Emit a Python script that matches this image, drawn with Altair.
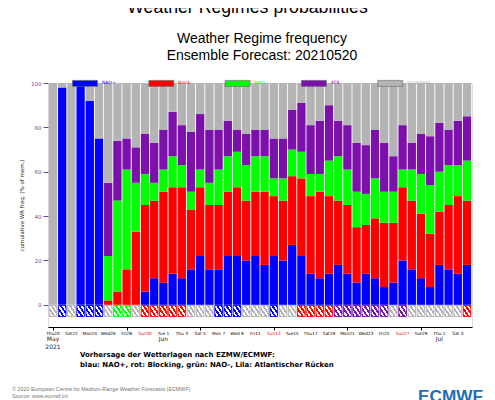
import altair as alt
import pandas as pd

# ---------------- data ----------------
dates = pd.date_range("2021-05-20", "2021-07-04", freq="D")  # Thu20 May .. Sun 4 Jul

nao_plus = [0, 98, 0, 100, 92, 75, 0, 0, 0, 0, 6, 12, 10, 14, 12, 16, 22, 16, 16, 22, 22, 20, 22,
            18, 22, 20, 27, 22, 14, 12, 14, 18, 14, 10, 14, 12, 8, 10, 20, 16, 12, 8, 18, 16, 14, 18]
blocking = [0, 0, 0, 0, 0, 0, 2, 6, 16, 33, 39, 35, 41, 39, 41, 27, 31, 29, 29, 29, 31, 27, 29,
            33, 27, 27, 31, 35, 35, 39, 35, 29, 31, 25, 22, 27, 29, 27, 33, 31, 29, 24, 24, 29, 35, 29]
nao_minus = [0, 0, 0, 0, 0, 0, 20, 41, 45, 22, 14, 8, 10, 14, 10, 8, 8, 10, 16, 16, 16, 16, 16,
             16, 8, 10, 12, 12, 10, 8, 16, 20, 16, 16, 14, 18, 14, 14, 8, 14, 18, 22, 18, 18, 14, 18]
atl_ridge = [0, 0, 0, 0, 0, 0, 33, 27, 14, 16, 18, 18, 18, 20, 18, 27, 25, 24, 18, 16, 10, 14, 12,
             12, 18, 18, 18, 22, 22, 24, 25, 16, 20, 22, 22, 22, 22, 16, 20, 12, 18, 22, 22, 16, 20, 20]
dominant = ["no regime", "NAO+", "no regime", "NAO+", "NAO+", "NAO+", "no regime", "NAO-", "NAO-",
            "no regime", "Block", "Block", "Block", "Block", "Block", "no regime", "no regime",
            "no regime", "NAO+", "NAO+", "NAO+", "no regime", "no regime", "no regime", "NAO+",
            "no regime", "no regime", "Block", "Block", "Block", "Block", "ATR", "ATR", "ATR", "ATR",
            "ATR", "ATR", "no regime", "ATR", "no regime", "no regime", "no regime", "no regime",
            "no regime", "no regime", "Block"]

regimes = ["NAO+", "Block", "NAO-", "ATR", "no regime"]
colors = ["#0000ff", "#ff0000", "#00ff00", "#7b10ab", "#b4b4b4"]

month_dates = ["2021-05-20", "2021-06-01", "2021-07-01"]
month_names = ["May", "Jun", "Jul"]

main_title = "Weather Regimes probabilities"
sub_title = ["Weather Regime frequency", "Ensemble Forecast: 20210520"]
footnote = ["Vorhersage der Wetterlagen nach EZMW/ECMWF:",
            "blau: NAO+, rot: Blocking, grün: NAO-, Lila: Atlantischer Rücken"]
copyright_lines = ["© 2020 European Centre for Medium-Range Weather Forecasts (ECMWF)",
                   "Source: www.ecmwf.int"]

# ---------------- tables ----------------
date_str = [d.strftime("%Y-%m-%dT00:00:00") for d in dates]
rows = []
for i, ds in enumerate(date_str):
    shares = [nao_plus[i], blocking[i], nao_minus[i], atl_ridge[i]]
    shares.append(100 - sum(shares))
    for k, (reg, v) in enumerate(zip(regimes, shares)):
        rows.append({"date": ds, "regime": reg, "k": k, "value": v})
df = pd.DataFrame(rows)
df_dom = pd.DataFrame({"date": date_str, "dominant": dominant})
df_month = pd.DataFrame({"date": [m + "T00:00:00" for m in month_dates], "label": month_names})

tick_dates = dates[::2]
df_ticks = pd.DataFrame({
    "date": [d.strftime("%Y-%m-%dT00:00:00") for d in tick_dates],
    "label": [d.strftime("%a") + f"{d.day:2d}" for d in tick_dates],
    "sunday": [d.weekday() == 6 for d in tick_dates],
})

tick_vals = [alt.DateTime(year=d.year, month=d.month, date=d.day) for d in tick_dates]
x_scale = alt.Scale(domain=[alt.DateTime(year=2021, month=5, date=20),
                            alt.DateTime(year=2021, month=7, date=4)])
y_scale = alt.Scale(domain=[-10, 100], nice=False, zero=False)

x_axis = alt.Axis(values=tick_vals, title=None, grid=False, labels=False,
                  tickSize=3, tickColor="#000000", domainColor="#000000", domainWidth=1)
y_axis = alt.Axis(values=[0, 20, 40, 60, 80, 100], title="cumulative WR freq. (% of mem.)",
                  titleFont="DejaVu Sans", titleFontSize=5.5, titleFontWeight="normal",
                  titleColor="#222222", titlePadding=6, labelFont="DejaVu Sans", labelFontSize=5.5,
                  labelColor="#5555aa", tickColor="#5555aa", tickSize=5, domain=False, grid=False,
                  labelOverlap=False)

label_expr = ("datum.label == 'NAO+' ? '#0000ff' : datum.label == 'Block' ? '#ff0000' : "
              "datum.label == 'NAO-' ? '#00ff00' : datum.label == 'ATR' ? '#7b10ab' : '#aaaaaa'")
legend = alt.Legend(orient="none", legendX=24, legendY=-13, direction="horizontal", columns=5,
                    title=None, symbolType="M-1,-0.24H1V0.24H-1Z", symbolSize=625,
                    symbolStrokeWidth=0.6, symbolStrokeColor="#666666", labelFont="DejaVu Sans",
                    labelFontSize=4.5, labelOffset=4, columnPadding=22.3, gridAlign="all",
                    labelColor={"expr": label_expr})

bars = alt.Chart(df).mark_bar(width=8.3, clip=True).encode(
    x=alt.X("date:T", scale=x_scale, axis=x_axis),
    y=alt.Y("value:Q", stack="zero", scale=y_scale, axis=y_axis),
    color=alt.Color("regime:N", scale=alt.Scale(domain=regimes, range=colors), legend=legend),
    order=alt.Order("k:Q", sort="ascending"),
)

hatch_layers = []
for reg, col in zip(regimes, colors):
    stops = []
    n = 7
    for j in range(n):
        c = col if j % 2 == 0 else "#ffffff"
        stops.append(alt.GradientStop(color=c, offset=j / n))
        stops.append(alt.GradientStop(color=c, offset=(j + 1) / n))
    grad = alt.LinearGradient(gradient="linear", stops=stops, x1=0, y1=1, x2=1, y2=0)
    hatch_layers.append(
        alt.Chart(df_dom).transform_filter(alt.datum.dominant == reg)
        .mark_bar(width=7.6, clip=True, fill=grad, stroke=col, strokeWidth=0.9)
        .encode(x=alt.X("date:T", scale=x_scale), y=alt.datum(-0.3), y2=alt.datum(-5.3))
    )

tick_labels = [
    alt.Chart(df_ticks).transform_filter(
        alt.datum.sunday if sun else ~alt.datum.sunday
    ).mark_text(font="DejaVu Sans", fontSize=4.3, baseline="alphabetic", align="center",
                color="#ff0000" if sun else "#000000").encode(
        x=alt.X("date:T", scale=x_scale), y=alt.value(251.5), text="label:N")
    for sun in (False, True)
]

months = alt.Chart(df_month).mark_text(font="DejaVu Sans", fontSize=6, color="#222222",
                                        baseline="alphabetic").encode(
    x=alt.X("date:T", scale=x_scale), y=alt.value(258), text="label:N")
year = alt.Chart(df_month.iloc[:1]).mark_text(font="DejaVu Sans", fontSize=6, color="#222222",
                                               baseline="alphabetic").encode(
    x=alt.X("date:T", scale=x_scale), y=alt.value(265.5), text=alt.value("2021"))

def text_layer(txt, x, y, **kw):
    return alt.Chart(pd.DataFrame({"t": [txt]})).mark_text(baseline="alphabetic", **kw).encode(
        x=alt.value(x), y=alt.value(y), text="t:N")

texts = [
    text_layer(main_title, 199.5, -70, font="Liberation Sans", fontSize=17.7, align="center",
               color="#000000"),
    text_layer(sub_title[0], 214, -40, font="Liberation Sans", fontSize=14, align="center",
               color="#000000"),
    text_layer(sub_title[1], 214, -23, font="Liberation Sans", fontSize=14, align="center",
               color="#000000"),
    text_layer(footnote[0], 32, 274, font="DejaVu Sans", fontSize=7, fontWeight="bold",
               align="left", color="#000000"),
    text_layer(footnote[1], 32, 284, font="DejaVu Sans", fontSize=7, fontWeight="bold",
               align="left", color="#000000"),
    text_layer(copyright_lines[0], -36, 308, font="Liberation Sans", fontSize=5.4, align="left",
               color="#777777"),
    text_layer(copyright_lines[1], -36, 315, font="Liberation Sans", fontSize=5.4, align="left",
               color="#777777"),
    text_layer("ECMWF", 370, 319, font="Liberation Sans", fontSize=17.2, fontWeight="bold",
               align="left", color="#1f6db5"),
]

chart = alt.layer(bars, *hatch_layers, *tick_labels, months, year, *texts).properties(
    width=424, height=244,
    padding={"left": 40, "top": 75, "right": 15, "bottom": 73},
    autosize=alt.AutoSizeParams(type="none"),
).configure_view(stroke="#888888", strokeWidth=0.8).configure(background="white")

chart.save("out.html", embed_options={"renderer": "svg", "actions": False})
